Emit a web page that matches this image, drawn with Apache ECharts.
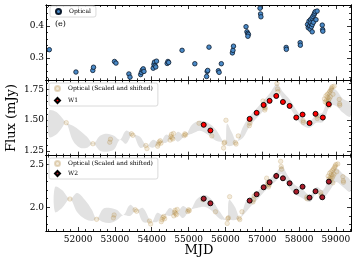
<!DOCTYPE html>
<html><head><meta charset="utf-8">
<script src="https://cdn.jsdelivr.net/npm/echarts@6/dist/echarts.min.js"></script>
<style>html,body{margin:0;padding:0;background:#fff}#c{width:357px;height:265px}</style>
</head><body><div id="c"></div>
<script>
// ---------- data ----------
const optMJD = [51220,51943,52400,52420,52990,53030,53380,53410,53700,53720,53745,53770,53790,54040,54060,54075,54090,54110,54130,54420,54440,54460,54824,55170,55490,55505,55520,55555,55810,55830,55890,56190,56205,56220,56560,56585,56605,56625,56610,56940,56955,56965,57650,57655,58030,58035,58230,58250,58270,58285,58300,58310,58320,58335,58350,58360,58375,58390,58405,58420,58440,58460,58490,58357,58630,58640,58645];
const optFlux = [0.326,0.256,0.261,0.271,0.289,0.284,0.250,0.240,0.248,0.255,0.262,0.266,0.258,0.268,0.280,0.287,0.276,0.272,0.290,0.283,0.289,0.286,0.324,0.282,0.242,0.258,0.261,0.334,0.260,0.255,0.282,0.316,0.324,0.337,0.398,0.382,0.377,0.374,0.368,0.456,0.438,0.429,0.333,0.327,0.348,0.340,0.405,0.395,0.415,0.400,0.390,0.420,0.410,0.398,0.425,0.405,0.430,0.412,0.435,0.440,0.445,0.420,0.447,0.382,0.403,0.389,0.384];

// lag / scale / offset used for "Optical (Scaled and shifted)"
const W1_LAG = 460, W1_SCALE = 2.44, W1_OFFSET = 0.684;
const W2_LAG = 560, W2_SCALE = 3.37, W2_OFFSET = 0.997;

const w1MJD  = [55412,55593,56658,56848,57038,57200,57381,57562,57743,57924,58095,58284,58447,58645,58808];
const w1Flux = [1.462,1.416,1.510,1.559,1.623,1.656,1.696,1.647,1.615,1.521,1.545,1.476,1.551,1.521,1.629];
const w1Err  = [0.008,0.008,0.008,0.008,0.008,0.008,0.010,0.008,0.008,0.008,0.008,0.008,0.008,0.008,0.008];

const w2MJD  = [55412,55593,56658,56848,57038,57200,57381,57562,57743,57924,58095,58284,58447,58630,58808];
const w2Flux = [2.100,2.046,2.077,2.151,2.232,2.291,2.364,2.337,2.279,2.181,2.239,2.112,2.186,2.116,2.298];
const w2Err  = [0.012,0.012,0.012,0.012,0.012,0.012,0.035,0.012,0.012,0.012,0.012,0.012,0.012,0.020,0.012];

// grey model envelopes
const band1MJD = [51211,51402,51564,51673,51863,52053,52243,52414,52596,52786,52976,53139,53302,53484,53682,53864,54035,54225,54388,54570,54714,54904,55094,55311,55528,55746,55990,56044,56180,56308,56479,56669,56859,57049,57212,57402,57565,57755,57945,58108,58298,58461,58651,58841,59004,59194,59387];
const band1Hi  = [1.575,1.567,1.519,1.481,1.454,1.414,1.365,1.309,1.373,1.390,1.373,1.341,1.414,1.387,1.365,1.293,1.341,1.317,1.382,1.357,1.406,1.373,1.462,1.494,1.478,1.422,1.317,1.470,1.398,1.325,1.446,1.535,1.599,1.664,1.720,1.793,1.728,1.664,1.575,1.510,1.494,1.543,1.567,1.760,1.744,1.672,1.640];
const band1Lo  = [1.365,1.382,1.438,1.481,1.333,1.277,1.277,1.309,1.252,1.244,1.261,1.341,1.309,1.387,1.277,1.293,1.277,1.317,1.317,1.357,1.325,1.373,1.390,1.414,1.382,1.333,1.317,1.293,1.293,1.325,1.357,1.454,1.519,1.583,1.648,1.736,1.664,1.599,1.510,1.454,1.438,1.478,1.486,1.615,1.615,1.559,1.527];

const band2MJD = [51374,51564,51782,51972,52189,52379,52507,52678,52868,53058,53229,53411,53592,53764,54000,54144,54315,54497,54679,54850,55040,55230,55447,55637,55854,56044,56098,56261,56397,56560,56696,56859,57049,57212,57375,57530,57701,57891,58081,58298,58480,58651,58841,59004,59194,59387];
const band2Hi  = [2.236,2.201,2.096,2.166,2.085,1.968,1.864,1.980,1.992,1.968,1.910,2.027,1.968,1.992,1.829,1.934,1.910,1.992,1.934,2.015,1.968,2.096,2.143,2.085,1.945,1.852,2.085,2.003,1.875,2.073,2.120,2.178,2.259,2.329,2.399,2.480,2.364,2.259,2.213,2.143,2.236,2.201,2.376,2.457,2.387,2.317];
const band2Lo  = [1.945,1.992,2.096,1.945,1.864,1.841,1.864,1.829,1.817,1.852,1.910,1.899,1.968,1.829,1.829,1.829,1.910,1.899,1.934,1.875,1.968,1.992,2.003,1.957,1.864,1.852,1.852,1.852,1.875,1.945,2.015,2.085,2.178,2.248,2.306,2.387,2.248,2.155,2.108,2.062,2.166,2.108,2.201,2.294,2.236,2.178];

// axes ranges and ticks
const X_MIN = 51130, X_MAX = 59410;
const xMajorTicks = [52000,53000,54000,55000,56000,57000,58000,59000];
const xMinorTicks = [];
for (let v = 51200; v < X_MAX; v += 200) if (v % 1000 !== 0) xMinorTicks.push(v);
const yRanges = [[0.230,0.466],[1.212,1.8225],[1.724,2.600]];
const yMajorTicks = [[0.3,0.4],[1.25,1.50,1.75],[2.0,2.5]];
const yMinorTicks = [
  [0.24,0.26,0.28,0.32,0.34,0.36,0.38,0.42,0.44,0.46],
  [1.30,1.35,1.40,1.45,1.55,1.60,1.65,1.70,1.80],
  [1.8,1.9,2.1,2.2,2.3,2.4]
];
const yDecimals = [1,2,1];

// ---------- chart ----------
const FONT = 'DejaVu Serif';
const GL = 46, GR = 6, GT = 5, GH = 75.33;
const grids = [];
for (let k = 0; k < 2; k++) for (let i = 0; i < 3; i++)
  grids.push({left: GL, right: GR, top: GT + i*GH, height: GH, outerBoundsMode: 'none', containLabel: false});

function xAx(grid, pos, ticks, len, showLabel) {
  return {type:'value', gridIndex:grid, position:pos, min:X_MIN, max:X_MAX, scale:true,
    axisLine:{show:true, onZero:false, lineStyle:{color:'#000', width:1}},
    axisTick:{show:true, inside:true, length:len, customValues:ticks, lineStyle:{color:'#000', width:0.8}},
    axisLabel:{show:showLabel, customValues:ticks, margin:4, fontFamily:FONT, fontSize:9, color:'#000',
      formatter: v => String(Math.round(v))},
    splitLine:{show:false}, minorTick:{show:false}};
}
function yAx(grid, pos, p, ticks, len, showLabel) {
  return {type:'value', gridIndex:grid, position:pos, min:yRanges[p][0], max:yRanges[p][1], scale:true,
    axisLine:{show:true, onZero:false, lineStyle:{color:'#000', width:1}},
    axisTick:{show:true, inside:true, length:len, customValues:ticks, lineStyle:{color:'#000', width:0.8}},
    axisLabel:{show:showLabel, customValues:ticks, margin:2, fontFamily:FONT, fontSize:9, color:'#000',
      formatter: v => Number(v).toFixed(yDecimals[p])},
    splitLine:{show:false}, minorTick:{show:false}};
}
const xAxes = [], yAxes = [];
for (let i = 0; i < 3; i++) {
  xAxes.push(xAx(i, 'bottom', xMajorTicks, 4, i === 2));
  xAxes.push(xAx(i, 'top', xMajorTicks, 4, false));
  yAxes.push(yAx(i, 'left', i, yMajorTicks[i], 4, true));
  yAxes.push(yAx(i, 'right', i, yMajorTicks[i], 4, false));
}
for (let i = 0; i < 3; i++) {
  xAxes.push(xAx(i+3, 'bottom', xMinorTicks, 2, false));
  xAxes.push(xAx(i+3, 'top', xMinorTicks, 2, false));
  yAxes.push(yAx(i+3, 'left', i, yMinorTicks[i], 2, false));
  yAxes.push(yAx(i+3, 'right', i, yMinorTicks[i], 2, false));
}

function bandSeries(axisIdx, xs, lo, hi) {
  return {type:'custom', xAxisIndex:axisIdx, yAxisIndex:axisIdx, silent:true, z:1, clip:true,
    data: xs.map((x,i) => [x, lo[i], hi[i]]),
    encode:{x:0, y:[1,2]},
    renderItem: (params, api) => {
      if (params.dataIndex !== 0) return null;
      const pts = [];
      for (let i = 0; i < xs.length; i++) pts.push(api.coord([xs[i], hi[i]]));
      for (let i = xs.length-1; i >= 0; i--) pts.push(api.coord([xs[i], lo[i]]));
      return {type:'polygon', shape:{points:pts, smooth:0.35}, style:{fill:'#e2e2e2', stroke:null}};
    }};
}
function errSeries(axisIdx, xs, ys, es) {
  return {type:'custom', xAxisIndex:axisIdx, yAxisIndex:axisIdx, silent:true, z:3, clip:true,
    data: xs.map((x,i) => [x, ys[i]-es[i], ys[i]+es[i]]),
    encode:{x:0, y:[1,2]},
    renderItem: (params, api) => {
      const a = api.coord([api.value(0), api.value(1)]);
      const b = api.coord([api.value(0), api.value(2)]);
      return {type:'line', shape:{x1:a[0], y1:a[1], x2:b[0], y2:b[1]}, style:{stroke:'#000', lineWidth:0.8}};
    }};
}
const optStyle = {color:'rgba(180,130,30,0.16)', borderColor:'rgba(175,135,65,0.32)', borderWidth:0.7, opacity:1};

const series = [
  {name:'Optical', type:'scatter', xAxisIndex:0, yAxisIndex:0, z:4, symbolSize:4.5,
   data: optMJD.map((x,i) => [x, optFlux[i]]),
   itemStyle:{color:'#4a8ac8', borderColor:'#0c1a2c', borderWidth:0.8, opacity:1}},
  bandSeries(2, band1MJD, band1Lo, band1Hi),
  {name:'Optical (Scaled and shifted)', type:'scatter', xAxisIndex:2, yAxisIndex:2, z:2, symbolSize:4.5, clip:true,
   data: optMJD.map((x,i) => [x + W1_LAG, optFlux[i]*W1_SCALE + W1_OFFSET]),
   itemStyle: optStyle},
  errSeries(2, w1MJD, w1Flux, w1Err),
  {name:'W1', type:'scatter', xAxisIndex:2, yAxisIndex:2, z:4, symbolSize:5,
   data: w1MJD.map((x,i) => [x, w1Flux[i]]),
   itemStyle:{color:'#ff0000', borderColor:'#000', borderWidth:0.9, opacity:1}},
  bandSeries(4, band2MJD, band2Lo, band2Hi),
  {name:'Optical (Scaled and shifted)', type:'scatter', xAxisIndex:4, yAxisIndex:4, z:2, symbolSize:4.5, clip:true,
   data: optMJD.map((x,i) => [x + W2_LAG, optFlux[i]*W2_SCALE + W2_OFFSET]),
   itemStyle: optStyle},
  errSeries(4, w2MJD, w2Flux, w2Err),
  {name:'W2', type:'scatter', xAxisIndex:4, yAxisIndex:4, z:4, symbolSize:5,
   data: w2MJD.map((x,i) => [x, w2Flux[i]]),
   itemStyle:{color:'#a81c2a', borderColor:'#000', borderWidth:0.9, opacity:1}}
];

function legend(names, icons, left, top, gap) {
  return {data: names.map((n,i) => ({name:n, icon:icons[i]})), left:left, top:top, orient:'vertical',
    selectedMode:false, itemWidth:5, itemHeight:5, itemGap:gap, padding:[2,5,2,5],
    backgroundColor:'rgba(255,255,255,0.85)', borderColor:'#d0d0d0', borderWidth:0.8, borderRadius:2,
    textStyle:{fontFamily:FONT, fontSize:6, color:'#000', padding:[0,0,0,3]}};
}

const option = {
  animation:false,
  backgroundColor:'#fff',
  grid: grids,
  xAxis: xAxes,
  yAxis: yAxes,
  legend: [
    legend(['Optical'], ['circle'], 50, 6, 3),
    legend(['Optical (Scaled and shifted)','W1'], ['circle','diamond'], 49, 83, 5),
    legend(['Optical (Scaled and shifted)','W2'], ['circle','diamond'], 49, 158, 3)
  ],
  graphic: [
    {type:'text', left:55, top:20, style:{text:'(e)', font:'8px "DejaVu Serif"', fill:'#000'}},
    {type:'text', x:12, y:118, rotation:Math.PI/2,
     style:{text:'Flux (mJy)', font:'13px "DejaVu Serif"', fill:'#000', align:'center', verticalAlign:'middle', textAlign:'center', textVerticalAlign:'middle'}},
    {type:'text', x:199, y:251,
     style:{text:'MJD', font:'13px "DejaVu Serif"', fill:'#000', align:'center', verticalAlign:'middle', textAlign:'center', textVerticalAlign:'middle'}}
  ],
  series: series
};
const chart = echarts.init(document.getElementById('c'), null, {renderer:'canvas'});
chart.setOption(option);
</script></body></html>
